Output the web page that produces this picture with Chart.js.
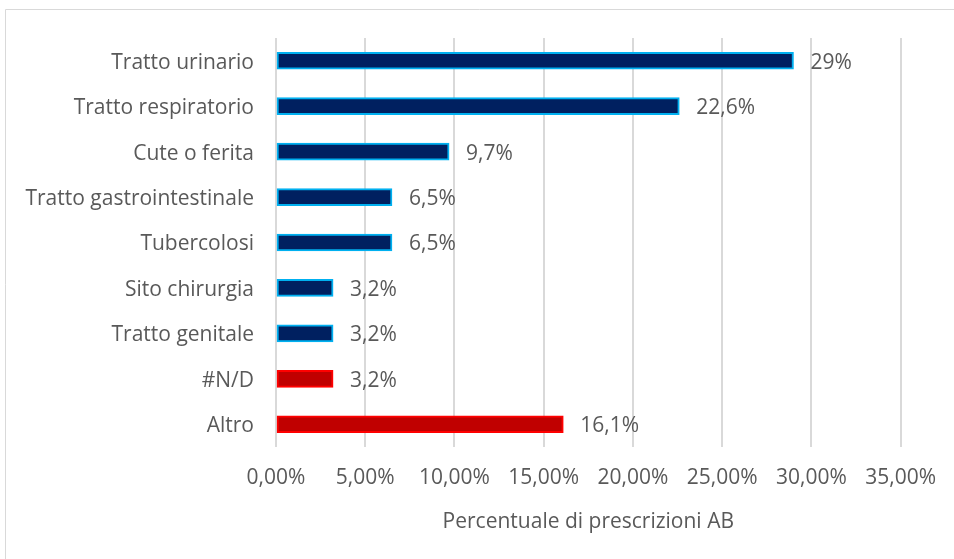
<!DOCTYPE html>
<html>
<head>
<meta charset="utf-8">
<script src="https://cdn.jsdelivr.net/npm/chart.js@4.4.1/dist/chart.umd.min.js"></script>
<style>
  html, body { margin: 0; padding: 0; background: #fff; }
  #wrap { width: 954px; height: 559px; position: relative; }
</style>
</head>
<body>
<div id="wrap"><canvas id="chart"></canvas></div>
<script>
const categories = ['Tratto urinario', 'Tratto respiratorio', 'Cute o ferita', 'Tratto gastrointestinale',
    'Tubercolosi', 'Sito chirurgia', 'Tratto genitale', '#N/D', 'Altro'];
const percentValues = [29, 22.6, 9.7, 6.5, 6.5, 3.2, 3.2, 3.2, 16.1];
const tickLabels = ['0,00%', '5,00%', '10,00%', '15,00%', '20,00%', '25,00%', '30,00%', '35,00%'];
const axisTitle = 'Percentuale di prescrizioni AB';

const navy = '#002060', lightBlue = '#00b0f0', darkRed = '#c00000', red = '#ff0000';
const fillColors = categories.map(c => (c === '#N/D' || c === 'Altro') ? darkRed : navy);
const edgeColors = categories.map(c => (c === '#N/D' || c === 'Altro') ? red : lightBlue);

const fontFamily = '"Open Sans", Lato, sans-serif';
const textColor = '#595959';

// etichette dei valori a destra delle barre
const valueLabels = {
    id: 'valueLabels',
    afterDatasetsDraw(chart) {
        const ctx = chart.ctx;
        const meta = chart.getDatasetMeta(0);
        ctx.save();
        ctx.font = '21px ' + fontFamily;
        ctx.fillStyle = textColor;
        ctx.textBaseline = 'middle';
        ctx.textAlign = 'left';
        meta.data.forEach((bar, i) => {
            const txt = String(percentValues[i]).replace('.', ',') + '%';
            ctx.fillText(txt, bar.x + 17, bar.y + 2);
        });
        ctx.restore();
    }
};

// bordo esterno del grafico
const outerBorder = {
    id: 'outerBorder',
    beforeDraw(chart) {
        const ctx = chart.ctx;
        ctx.save();
        ctx.strokeStyle = '#d9d9d9';
        ctx.lineWidth = 1;
        ctx.beginPath();
        ctx.moveTo(5.5, chart.height);
        ctx.lineTo(5.5, 9.5);
        ctx.lineTo(chart.width, 9.5);
        ctx.stroke();
        ctx.restore();
    }
};

const ctx = document.getElementById('chart').getContext('2d');
const chart = new Chart(ctx, {
    type: 'bar',
    data: {
        labels: categories,
        datasets: [{
            data: percentValues,
            backgroundColor: fillColors,
            borderColor: edgeColors,
            borderWidth: 2,
            borderSkipped: false,
            barThickness: 17
        }]
    },
    options: {
        indexAxis: 'y',
        responsive: true,
        maintainAspectRatio: false,
        animation: false,
        layout: { padding: { top: 38, right: 52, bottom: 0, left: 0 } },
        plugins: {
            legend: { display: false },
            tooltip: { enabled: false }
        },
        scales: {
            x: {
                min: 0,
                max: 35,
                ticks: {
                    stepSize: 5,
                    color: textColor,
                    font: { family: fontFamily, size: 21 },
                    padding: 18,
                    callback: (v, i) => tickLabels[i]
                },
                grid: { color: '#d9d9d9', lineWidth: 2, drawTicks: false },
                border: { display: false },
                title: {
                    display: true,
                    text: axisTitle,
                    color: textColor,
                    font: { family: fontFamily, size: 21 },
                    padding: { top: 4, bottom: 24 }
                },
                afterFit(scale) { scale.height = 112; }
            },
            y: {
                ticks: {
                    color: textColor,
                    font: { family: fontFamily, size: 21 },
                    padding: 22,
                    labelOffset: 2
                },
                grid: { display: false, drawTicks: false },
                border: { display: false },
                afterFit(scale) { scale.width = 276; }
            }
        }
    },
    plugins: [outerBorder, valueLabels]
});
</script>
</body>
</html>
